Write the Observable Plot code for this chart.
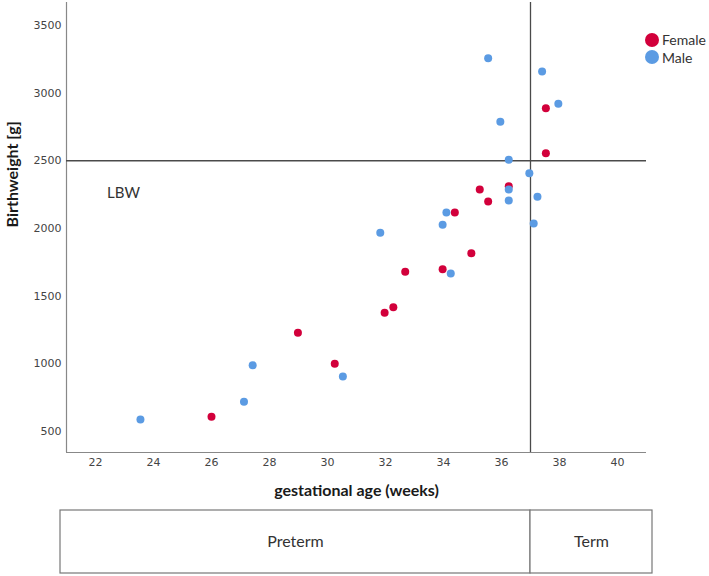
<!DOCTYPE html>
<html>
<head>
<meta charset="utf-8">
<script src="https://cdn.jsdelivr.net/npm/d3@7"></script>
<script src="https://cdn.jsdelivr.net/npm/@observablehq/plot@0.6"></script>
<style>
  html, body { margin: 0; padding: 0; background: #fff; }
  #chart { position: relative; width: 709px; height: 576px; }
  #chart svg { display: block; }
  #legend { position: absolute; left: 645px; top: 31px; font-family: Lato, sans-serif; font-size: 14px; color: #333; }
  #legend .item { display: flex; align-items: center; height: 17.4px; }
  #legend .sw { width: 14px; height: 14px; border-radius: 50%; margin-right: 3px; }
</style>
</head>
<body>
<div id="chart"></div>
<script>
// ---- data ----
const femaleWeeks  = [26.0, 28.98, 30.25, 31.97, 32.27, 32.68, 33.97, 34.39, 34.96, 35.25, 35.54, 36.25, 37.53, 37.53];
const femaleWeight = [607, 1228, 999, 1376, 1417, 1679, 1698, 2117, 1816, 2287, 2198, 2311, 2555, 2888];
const maleWeeks    = [23.55, 27.12, 27.42, 30.53, 31.82, 33.97, 34.10, 34.25, 35.54, 35.96, 36.25, 36.25, 36.25, 36.96, 37.11, 37.24, 37.40, 37.96];
const maleWeight   = [587, 718, 988, 905, 1967, 2026, 2117, 1666, 3258, 2788, 2507, 2287, 2206, 2408, 2036, 2233, 3159, 2921];
const sexes = ["Female", "Male"];
const sexColors = ["#d2003b", "#5b9be3"];
const xTicks = [22, 24, 26, 28, 30, 32, 34, 36, 38, 40];
const yTicks = [500, 1000, 1500, 2000, 2500, 3000, 3500];
const xDomain = [21, 41];
const yDomain = [343, 3670];
const lbwCutoff = 2500;   // g
const termCutoff = 37;    // weeks
const lbwLabel = {text: "LBW", x: 22.4, y: 2260};
const periods = [
  {label: "Preterm", x1: 21, x2: 37},
  {label: "Term", x1: 37, x2: 41}
];

const points = [
  ...femaleWeeks.map((w, i) => ({sex: "Female", weeks: w, weight: femaleWeight[i]})),
  ...maleWeeks.map((w, i) => ({sex: "Male", weeks: w, weight: maleWeight[i]}))
];

const W = 709, mL = 66, mR = 63;
const tickFont = "'DejaVu Sans', sans-serif";

const main = Plot.plot({
  width: W,
  height: 505,
  marginTop: 2,
  marginBottom: 53,
  marginLeft: mL,
  marginRight: mR,
  style: {fontFamily: tickFont, fontSize: "11px", color: "#444", background: "#fff"},
  x: {domain: xDomain, ticks: xTicks, label: null},
  y: {domain: yDomain, ticks: yTicks, label: null},
  color: {domain: sexes, range: sexColors},
  marks: [
    Plot.axisX({ticks: xTicks, tickSize: 0, tickPadding: 6, label: null, fontSize: 11, fontFamily: tickFont, tickFormat: d3.format("d"), fill: "#444"}),
    Plot.axisY({ticks: yTicks, tickSize: 0, tickPadding: 5, label: null, fontSize: 11, fontFamily: tickFont, tickFormat: d3.format("d"), fill: "#444"}),
    Plot.ruleX([xDomain[0]], {stroke: "#888", strokeWidth: 1.2}),
    Plot.ruleY([yDomain[0]], {stroke: "#888", strokeWidth: 1.2}),
    Plot.ruleY([lbwCutoff], {stroke: "#4a4a4a", strokeWidth: 1.3}),
    Plot.ruleX([termCutoff], {stroke: "#4a4a4a", strokeWidth: 1.3}),
    Plot.dot(points, {x: "weeks", y: "weight", fill: "sex", r: 4, stroke: null}),
    Plot.text([lbwLabel], {x: "x", y: "y", text: "text", textAnchor: "start", fontFamily: "Lato, sans-serif", fontSize: 15, fill: "#333"}),
    Plot.text(["gestational age (weeks)"], {frameAnchor: "bottom", dy: 43, text: d => d, fontFamily: "Lato, sans-serif", fontWeight: "bold", fontSize: 16, fill: "#1a1a1a"}),
    Plot.text(["Birthweight [g]"], {frameAnchor: "left", dx: -54, rotate: -90, text: d => d, fontFamily: "Lato, sans-serif", fontWeight: "bold", fontSize: 16, fill: "#1a1a1a"})
  ]
});

const box = Plot.plot({
  width: W,
  height: 71,
  marginTop: 5,
  marginBottom: 3,
  marginLeft: mL,
  marginRight: mR,
  style: {fontFamily: "Lato, sans-serif", fontSize: "16px", color: "#333", background: "transparent", overflow: "visible"},
  x: {domain: xDomain, axis: null},
  marks: [
    Plot.rect(periods.slice(0, 1), {x1: "x1", x2: "x2", fill: "#fff", stroke: "#777", strokeWidth: 1.2, insetLeft: -6, insetRight: 0}),
    Plot.rect(periods.slice(1), {x1: "x1", x2: "x2", fill: "#fff", stroke: "#777", strokeWidth: 1.2, insetLeft: 0, insetRight: -6}),
    Plot.text(periods.slice(0, 1), {x: d => (d.x1 + d.x2) / 2, text: "label", dx: -3, fontSize: 16, fill: "#333"}),
    Plot.text(periods.slice(1), {x: d => (d.x1 + d.x2) / 2, text: "label", dx: 3, fontSize: 16, fill: "#333"})
  ]
});

const chart = document.getElementById("chart");
chart.appendChild(main);
chart.appendChild(box);

const legend = document.createElement("div");
legend.id = "legend";
sexes.forEach((s, i) => {
  const item = document.createElement("div");
  item.className = "item";
  const sw = document.createElement("span");
  sw.className = "sw";
  sw.style.background = sexColors[i];
  const lab = document.createElement("span");
  lab.textContent = s;
  item.appendChild(sw);
  item.appendChild(lab);
  legend.appendChild(item);
});
chart.appendChild(legend);
</script>
</body>
</html>
